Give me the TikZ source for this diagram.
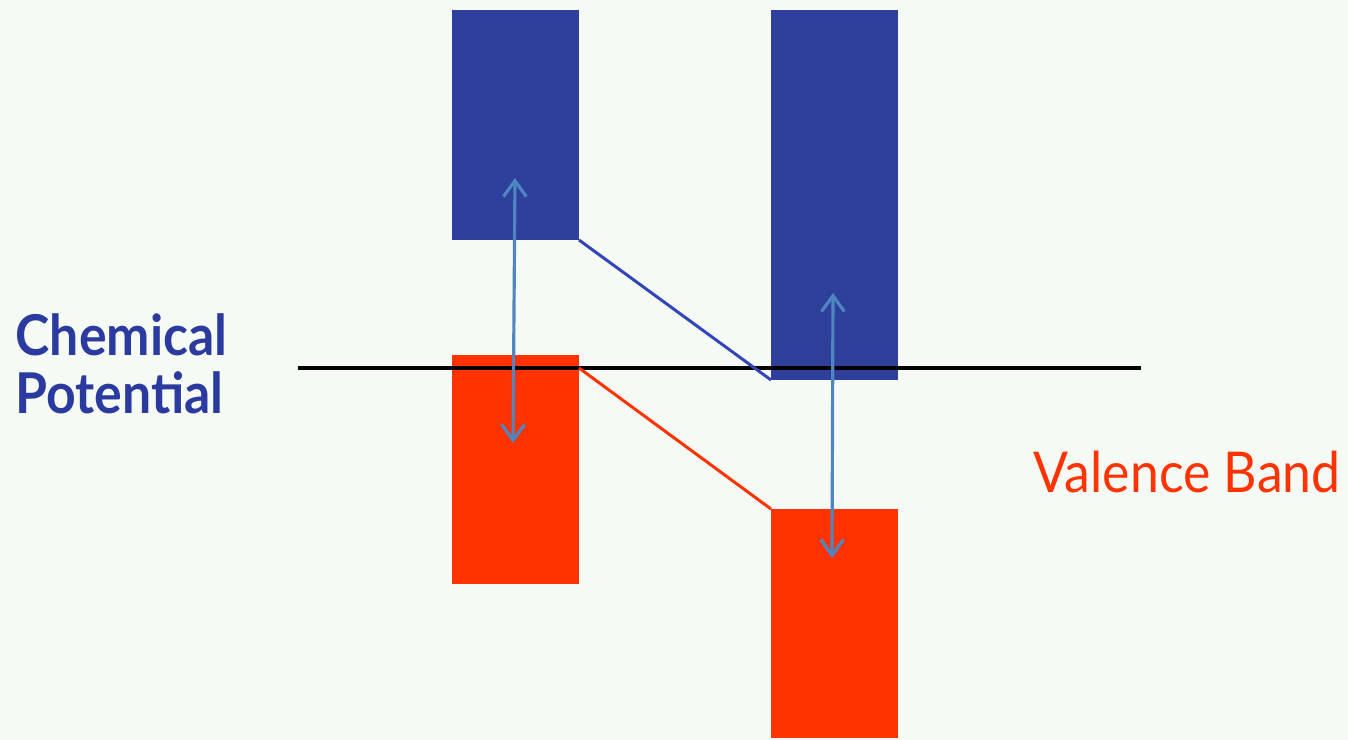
\documentclass[tikz,border=0pt]{standalone}
\usepackage{fontspec}
\setmainfont{Lato}[FakeStretch=0.92]
\usetikzlibrary{fit,arrows.meta,calc}
\definecolor{bg}{HTML}{F6FAF4}
\definecolor{cband}{HTML}{2E3F9C}
\definecolor{vband}{HTML}{FF3300}
\definecolor{gap}{HTML}{4F86C0}
\definecolor{labelblue}{HTML}{2B3A9E}
\definecolor{tieblue}{HTML}{3346B8}
\begin{document}
\begin{tikzpicture}[x=0.01cm,y=-0.01cm,
  band/.style={inner sep=0pt,outer sep=0pt,draw=none},
  conduction/.style={band,fill=cband},
  valence/.style={band,fill=vband},
  gaparrow/.style={draw=gap,line width=0.9pt,{Straight Barb[length=4.5pt,width=6.5pt]}-{Straight Barb[length=4.5pt,width=6.5pt]}},
  tie/.style={line width=0.85pt}]
\fill[bg] (0,0) rectangle (1348,740);
\useasboundingbox (0,0) rectangle (1348,740);

% energy bands of the two materials
\node[conduction,fit={(452,10)(579,240)}] (cb1) {};
\node[conduction,fit={(771,10)(898,380)}] (cb2) {};
\node[valence,fit={(452,355)(579,584)}] (vb1) {};
\node[valence,fit={(771,509)(898,738)}] (vb2) {};

% chemical potential level
\coordinate (muL) at (298,368);
\coordinate (muR) at (1141,368);
\draw[line width=1.1pt,black] (muL) -- (muR);

% band edges joined across the interface
\draw[tie,draw=tieblue] (cb1.south east) -- (cb2.south west);
\draw[tie,draw=vband] (vb1.east |- muL) -- (vb2.north west);

% band gaps
\coordinate (g1t) at (515,178);
\coordinate (g1b) at (513,443);
\coordinate (g2t) at (833,293);
\coordinate (g2b) at (832,558);
\draw[gaparrow] (g1t) -- (g1b);
\draw[gaparrow] (g2t) -- (g2b);

% labels
\node[anchor=west,align=left,text=labelblue,inner sep=0pt,
  font=\fontsize{16}{16.5}\selectfont\bfseries] (mu) at (15,364) {Chemical\\Potential};
\node[anchor=base west,text=vband,inner sep=0pt,
  font=\fontsize{16}{18}\selectfont] (vlabel) at (1033,493) {Valence Band};
\end{tikzpicture}
\end{document}
